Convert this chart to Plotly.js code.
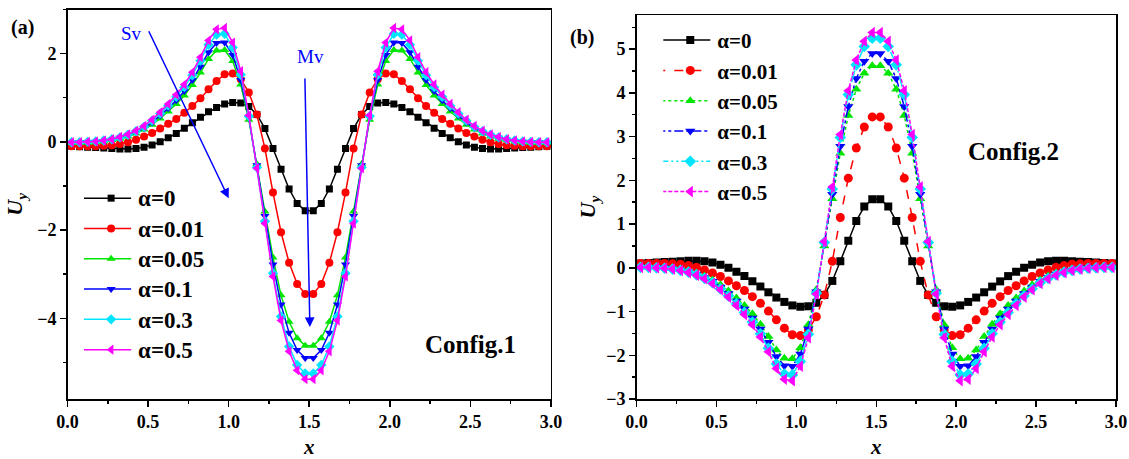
<!DOCTYPE html>
<html>
<head>
<meta charset="utf-8">
<script src="https://cdn.plot.ly/plotly-3.0.1.min.js"></script>
<style>
html,body{margin:0;padding:0;background:#fff;}
#chart{width:1129px;height:459px;}
</style>
</head>
<body>
<div id="chart"></div>
<script>
// ---------- data ----------
const xs = [0.025,0.075,0.125,0.175,0.225,0.275,0.325,0.375,0.425,0.475,0.525,0.575,0.625,0.675,0.725,0.775,0.825,0.875,0.925,0.975,1.025,1.075,1.125,1.175,1.225,1.275,1.325,1.375,1.425,1.475,1.525,1.575,1.625,1.675,1.725,1.775,1.825,1.875,1.925,1.975,2.025,2.075,2.125,2.175,2.225,2.275,2.325,2.375,2.425,2.475,2.525,2.575,2.625,2.675,2.725,2.775,2.825,2.875,2.925,2.975];

const seriesNames = ['α=0','α=0.01','α=0.05','α=0.1','α=0.3','α=0.5'];

// Config.1 (panel a)
const c1_a0   = [-0.10,-0.11,-0.12,-0.13,-0.14,-0.15,-0.16,-0.16,-0.15,-0.12,-0.07,0.00,0.09,0.19,0.31,0.43,0.56,0.68,0.78,0.86,0.89,0.88,0.80,0.62,0.30,-0.15,-0.62,-1.07,-1.40,-1.56,-1.56,-1.40,-1.07,-0.62,-0.15,0.30,0.62,0.80,0.88,0.89,0.86,0.78,0.68,0.56,0.43,0.31,0.19,0.09,0.00,-0.07,-0.12,-0.15,-0.16,-0.16,-0.15,-0.14,-0.13,-0.12,-0.11,-0.10];
const c1_a001 = [-0.10,-0.10,-0.10,-0.10,-0.09,-0.08,-0.05,-0.01,0.05,0.12,0.20,0.30,0.41,0.52,0.66,0.81,0.99,1.19,1.38,1.53,1.55,1.42,1.12,0.62,-0.15,-1.15,-2.05,-2.74,-3.22,-3.45,-3.45,-3.22,-2.74,-2.05,-1.15,-0.15,0.62,1.12,1.42,1.55,1.53,1.38,1.19,0.99,0.81,0.66,0.52,0.41,0.30,0.20,0.12,0.05,-0.01,-0.05,-0.08,-0.09,-0.10,-0.10,-0.10,-0.10];
const c1_a005 = [-0.02,-0.02,-0.02,-0.01,0.01,0.04,0.07,0.12,0.19,0.28,0.39,0.53,0.69,0.86,1.05,1.29,1.57,1.88,2.07,2.08,1.83,1.30,0.50,-0.50,-1.58,-2.62,-3.48,-4.08,-4.45,-4.62,-4.62,-4.45,-4.08,-3.48,-2.62,-1.58,-0.50,0.50,1.30,1.83,2.08,2.07,1.88,1.57,1.29,1.05,0.86,0.69,0.53,0.39,0.28,0.19,0.12,0.07,0.04,0.01,-0.01,-0.02,-0.02,-0.02];
const c1_a01  = [-0.02,-0.01,-0.01,0.00,0.02,0.05,0.09,0.14,0.22,0.31,0.44,0.59,0.76,0.94,1.15,1.40,1.70,2.03,2.24,2.25,1.97,1.40,0.55,-0.53,-1.68,-2.78,-3.69,-4.33,-4.72,-4.90,-4.90,-4.72,-4.33,-3.69,-2.78,-1.68,-0.53,0.55,1.40,1.97,2.25,2.24,2.03,1.70,1.40,1.15,0.94,0.76,0.59,0.44,0.31,0.22,0.14,0.09,0.05,0.02,0.00,-0.01,-0.01,-0.02];
const c1_a03  = [-0.01,-0.01,0.00,0.01,0.03,0.06,0.10,0.16,0.24,0.34,0.48,0.64,0.82,1.02,1.24,1.51,1.84,2.20,2.43,2.45,2.14,1.52,0.58,-0.58,-1.80,-2.98,-3.96,-4.64,-5.06,-5.25,-5.25,-5.06,-4.64,-3.96,-2.98,-1.80,-0.58,0.58,1.52,2.14,2.45,2.43,2.20,1.84,1.51,1.24,1.02,0.82,0.64,0.48,0.34,0.24,0.16,0.10,0.06,0.03,0.01,0.00,-0.01,-0.01];
const c1_a05  = [-0.01,-0.01,0.00,0.01,0.03,0.06,0.11,0.17,0.25,0.36,0.50,0.67,0.86,1.07,1.30,1.58,1.92,2.30,2.55,2.58,2.25,1.60,0.60,-0.60,-1.85,-3.05,-4.05,-4.75,-5.18,-5.38,-5.38,-5.18,-4.75,-4.05,-3.05,-1.85,-0.60,0.60,1.60,2.25,2.58,2.55,2.30,1.92,1.58,1.30,1.07,0.86,0.67,0.50,0.36,0.25,0.17,0.11,0.06,0.03,0.01,0.00,-0.01,-0.01];

// Config.2 (panel b)
const c2_a0   = [0.10,0.11,0.12,0.13,0.14,0.15,0.16,0.16,0.15,0.12,0.07,0.00,-0.09,-0.19,-0.31,-0.43,-0.56,-0.68,-0.78,-0.86,-0.89,-0.88,-0.80,-0.62,-0.30,0.15,0.62,1.07,1.40,1.57,1.57,1.40,1.07,0.62,0.15,-0.30,-0.62,-0.80,-0.88,-0.89,-0.86,-0.78,-0.68,-0.56,-0.43,-0.31,-0.19,-0.09,0.00,0.07,0.12,0.15,0.16,0.16,0.15,0.14,0.13,0.12,0.11,0.10];
const c2_a001 = [0.10,0.10,0.10,0.10,0.09,0.08,0.05,0.01,-0.05,-0.12,-0.20,-0.30,-0.41,-0.52,-0.66,-0.81,-0.99,-1.19,-1.38,-1.53,-1.55,-1.42,-1.12,-0.62,0.15,1.15,2.05,2.74,3.22,3.45,3.45,3.22,2.74,2.05,1.15,0.15,-0.62,-1.12,-1.42,-1.55,-1.53,-1.38,-1.19,-0.99,-0.81,-0.66,-0.52,-0.41,-0.30,-0.20,-0.12,-0.05,0.01,0.05,0.08,0.09,0.10,0.10,0.10,0.10];
const c2_a005 = [0.02,0.02,0.02,0.01,-0.01,-0.04,-0.07,-0.12,-0.19,-0.28,-0.39,-0.53,-0.69,-0.86,-1.05,-1.29,-1.57,-1.88,-2.07,-2.08,-1.83,-1.30,-0.50,0.50,1.58,2.62,3.48,4.08,4.45,4.62,4.62,4.45,4.08,3.48,2.62,1.58,0.50,-0.50,-1.30,-1.83,-2.08,-2.07,-1.88,-1.57,-1.29,-1.05,-0.86,-0.69,-0.53,-0.39,-0.28,-0.19,-0.12,-0.07,-0.04,-0.01,0.01,0.02,0.02,0.02];
const c2_a01  = [0.02,0.01,0.01,0.00,-0.02,-0.05,-0.09,-0.14,-0.22,-0.31,-0.44,-0.59,-0.76,-0.94,-1.15,-1.40,-1.70,-2.03,-2.24,-2.25,-1.97,-1.40,-0.55,0.53,1.68,2.78,3.69,4.33,4.72,4.90,4.90,4.72,4.33,3.69,2.78,1.68,0.53,-0.55,-1.40,-1.97,-2.25,-2.24,-2.03,-1.70,-1.40,-1.15,-0.94,-0.76,-0.59,-0.44,-0.31,-0.22,-0.14,-0.09,-0.05,-0.02,0.00,0.01,0.01,0.02];
const c2_a03  = [0.01,0.01,0.00,-0.01,-0.03,-0.06,-0.10,-0.16,-0.24,-0.34,-0.48,-0.64,-0.82,-1.02,-1.24,-1.51,-1.84,-2.20,-2.43,-2.45,-2.14,-1.52,-0.58,0.58,1.80,2.98,3.96,4.64,5.06,5.25,5.25,5.06,4.64,3.96,2.98,1.80,0.58,-0.58,-1.52,-2.14,-2.45,-2.43,-2.20,-1.84,-1.51,-1.24,-1.02,-0.82,-0.64,-0.48,-0.34,-0.24,-0.16,-0.10,-0.06,-0.03,-0.01,0.00,0.01,0.01];
const c2_a05  = [0.01,0.01,0.00,-0.01,-0.03,-0.06,-0.11,-0.17,-0.25,-0.36,-0.50,-0.67,-0.86,-1.07,-1.30,-1.58,-1.92,-2.30,-2.55,-2.58,-2.25,-1.60,-0.60,0.60,1.85,3.05,4.05,4.75,5.18,5.38,5.38,5.18,4.75,4.05,3.05,1.85,0.60,-0.60,-1.60,-2.25,-2.58,-2.55,-2.30,-1.92,-1.58,-1.30,-1.07,-0.86,-0.67,-0.50,-0.36,-0.25,-0.17,-0.11,-0.06,-0.03,-0.01,0.00,0.01,0.01];

const xTicks = [0,0.5,1,1.5,2,2.5,3];
const xTickText = ['0.0','0.5','1.0','1.5','2.0','2.5','3.0'];

// ---------- styles ----------
const colors  = ['#000000','#ff0000','#00e600','#0000ff','#00e5ff','#ff00ff'];
const symbols = ['square','circle','triangle-up','triangle-down','diamond','triangle-left'];
const msizes1 = [7,8,8,8,8,9];
const msizes2 = [8,9,9,9,9,10];
const dashes2 = ['solid','dash','dot','dashdot','12px,3px,2px,3px,2px,3px','4px,2px'];

const panel1 = [c1_a0,c1_a001,c1_a005,c1_a01,c1_a03,c1_a05];
const panel2 = [c2_a0,c2_a001,c2_a005,c2_a01,c2_a03,c2_a05];

const traces = [];
panel1.forEach((ys,i)=>{
  traces.push({x:xs,y:ys,xaxis:'x',yaxis:'y',type:'scatter',mode:'lines+markers',
    name:seriesNames[i],legend:'legend',
    line:{color:colors[i],width:1.5},
    marker:{symbol:symbols[i],size:msizes1[i],color:colors[i]}});
});
panel2.forEach((ys,i)=>{
  traces.push({x:xs,y:ys,xaxis:'x2',yaxis:'y2',type:'scatter',mode:'lines+markers',
    name:seriesNames[i],legend:'legend2',
    line:{color:colors[i],width:1.5,dash:dashes2[i]},
    marker:{symbol:symbols[i],size:msizes2[i],color:colors[i]}});
});

const SERIF = '"Liberation Serif", serif';
const tickFont = {family:SERIF,size:18,color:'#000',weight:'bold'};

function axisBase(extra){
  return Object.assign({
    showline:true,linecolor:'#000',linewidth:1.5,mirror:true,
    ticks:'outside',ticklen:6,tickwidth:1.5,tickcolor:'#000',
    showgrid:false,zeroline:false,automargin:false,
    tickfont:tickFont
  },extra);
}

const xTitle = {text:'x',font:{family:SERIF,size:21,style:'italic',weight:'bold',color:'#000'},standoff:12};
const yTitle = (so)=>({text:'U<sub>y</sub>',font:{family:SERIF,size:22,style:'italic',weight:'bold',color:'#000'},standoff:so});

const legendFont = {family:SERIF,size:21,color:'#000',weight:'bold'};

function ann(x,y,text,size,color,bold){
  return {xref:'paper',yref:'paper',x:x,y:y,xanchor:'center',yanchor:'middle',text:text,showarrow:false,
    font:{family:SERIF,size:size,color:color,weight:bold?'bold':'normal'}};
}

const layout = {
  width:1129,height:459,
  margin:{l:0,r:0,t:0,b:0},
  paper_bgcolor:'#fff',plot_bgcolor:'#fff',
  showlegend:true,
  xaxis: axisBase({domain:[0.0598,0.4880],anchor:'y',range:[0,3],tickvals:xTicks,ticktext:xTickText,
    minor:{ticks:'outside',ticklen:3.5,tickwidth:1.5,tickcolor:'#000',dtick:0.25,tick0:0},title:xTitle}),
  yaxis: axisBase({domain:[0.1307,0.9793],anchor:'x',range:[-5.83,3.0],tick0:0,dtick:2,
    minor:{ticks:'outside',ticklen:3.5,tickwidth:1.5,tickcolor:'#000',dtick:1,tick0:0},title:yTitle(8)}),
  xaxis2: axisBase({domain:[0.5638,0.9885],anchor:'y2',range:[0,3],tickvals:xTicks,ticktext:xTickText,
    minor:{ticks:'outside',ticklen:3.5,tickwidth:1.5,tickcolor:'#000',dtick:0.25,tick0:0},title:xTitle}),
  yaxis2: axisBase({domain:[0.1307,0.9673],anchor:'x2',range:[-3,5.78],tick0:0,dtick:1,
    minor:{ticks:'outside',ticklen:3.5,tickwidth:1.5,tickcolor:'#000',dtick:0.5,tick0:0},title:yTitle(4)}),
  legend:{x:0.0745,y:0.6122,xanchor:'left',yanchor:'top',font:legendFont,bgcolor:'rgba(0,0,0,0)',itemwidth:44,tracegroupgap:0},
  legend2:{x:0.5875,y:0.9565,xanchor:'left',yanchor:'top',font:legendFont,bgcolor:'rgba(0,0,0,0)',itemwidth:44,tracegroupgap:0},
  annotations:[
    ann(0.0195,0.941,'(a)',20,'#000',true),
    ann(0.5155,0.919,'(b)',20,'#000',true),
    ann(0.4163,0.2484,'Config.1',25,'#000',true),
    ann(0.8973,0.669,'Config.2',25,'#000',true),
    ann(0.1169,0.928,'Sv',19,'#0000ff',false),
    ann(0.2746,0.876,'Mv',19,'#0000ff',false),
    {xref:'x',yref:'y',axref:'x',ayref:'y',x:1.0,y:-1.28,ax:0.50,ay:2.54,text:'',showarrow:true,
      arrowhead:2,arrowsize:1.3,arrowwidth:1.5,arrowcolor:'#0000ff'},
    {xref:'x',yref:'y',axref:'x',ayref:'y',x:1.504,y:-4.2,ax:1.473,ay:1.47,text:'',showarrow:true,
      arrowhead:2,arrowsize:1.3,arrowwidth:1.5,arrowcolor:'#0000ff'}
  ]
};

function polishLegends(){
  const gd = document.getElementById('chart');
  gd.querySelectorAll('.legendlines path, .legend path.js-line').forEach(p=>p.setAttribute('d','M-7,0h54'));
  gd.querySelectorAll('.legend text.legendtext').forEach(t=>{ t.style.fontSize='23px'; });
}

const gdEl = document.getElementById('chart');
Plotly.newPlot(gdEl,traces,layout,{staticPlot:true,displayModeBar:false}).then(()=>{
  polishLegends();
  setTimeout(polishLegends,0);
  setTimeout(polishLegends,100);
});
gdEl.on && gdEl.on('plotly_afterplot',polishLegends);
</script>
</body>
</html>
